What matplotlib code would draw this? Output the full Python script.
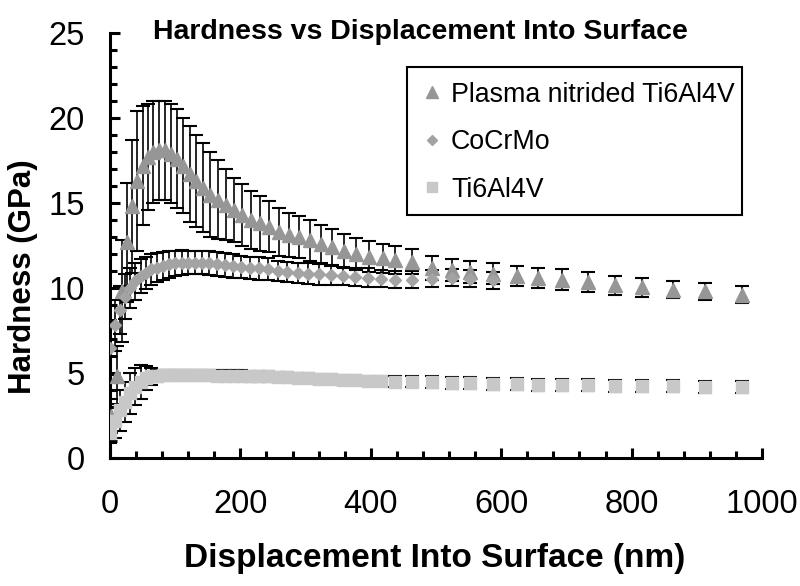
import matplotlib
matplotlib.use("Agg")
import matplotlib.pyplot as plt
from matplotlib.lines import Line2D
from matplotlib.patches import Rectangle
from matplotlib.ticker import MultipleLocator

# Plasma nitrided Ti6Al4V
pn_x = [2, 10, 18, 26, 34, 42, 50, 58, 66, 75, 84, 93, 102, 112, 122, 132, 143, 154,
        166, 178, 190, 203, 216, 230, 244, 259, 274, 290, 306, 323, 341, 359, 378,
        398, 418, 437, 463, 494, 525, 552, 587, 624, 656, 693, 733, 774, 816, 863,
        912, 969]
pn_y = [2.5, 4.8, 9.8, 12.7, 14.8, 16.3, 17.2, 17.7, 18.0, 18.1, 18.1, 17.9, 17.6,
        17.2, 16.7, 16.3, 15.9, 15.5, 15.2, 14.9, 14.6, 14.3, 14.0, 13.8, 13.6, 13.3,
        13.1, 13.0, 12.8, 12.6, 12.4, 12.2, 12.0, 11.85, 11.75, 11.65, 11.55, 11.2,
        11.05, 10.95, 10.85, 10.7, 10.6, 10.5, 10.35, 10.15, 10.05, 9.9, 9.8, 9.6]
pn_err = [1.0, 1.8, 3.0, 3.5, 3.9, 4.1, 3.5, 3.1, 3.0, 2.9, 2.9, 2.9, 2.9, 2.8, 2.8,
          2.7, 2.6, 2.5, 2.3, 2.1, 1.9, 1.8, 1.7, 1.6, 1.5, 1.4, 1.3, 1.25, 1.2, 1.1,
          1.05, 1.0, 0.95, 0.9, 0.85, 0.8, 0.75, 0.7, 0.65, 0.65, 0.6, 0.6, 0.6, 0.6,
          0.6, 0.55, 0.55, 0.5, 0.5, 0.5]

# CoCrMo
co_x = [0, 8, 15, 23, 31, 39, 47, 55, 63, 72, 81, 90, 100, 110, 120, 130, 141, 152,
        164, 176, 188, 201, 214, 228, 242, 257, 272, 288, 304, 321, 339, 357, 376,
        396, 416, 437, 463, 494, 525, 552, 587]
co_y = [6.5, 7.8, 8.7, 9.5, 10.0, 10.4, 10.7, 10.9, 11.1, 11.2, 11.3, 11.4, 11.45,
        11.5, 11.5, 11.5, 11.5, 11.45, 11.4, 11.35, 11.3, 11.25, 11.2, 11.15, 11.1,
        11.0, 10.95, 10.9, 10.85, 10.8, 10.75, 10.7, 10.65, 10.6, 10.55, 10.5, 10.5,
        10.55, 10.6, 10.55, 10.45]
co_err = [1.6, 1.5, 1.4, 1.3, 1.2, 1.1, 1.0, 0.95, 0.9, 0.85, 0.8, 0.8, 0.75, 0.75,
          0.7, 0.7, 0.7, 0.7, 0.7, 0.7, 0.7, 0.65, 0.65, 0.65, 0.65, 0.6, 0.6, 0.6,
          0.6, 0.6, 0.55, 0.55, 0.55, 0.55, 0.5, 0.5, 0.5, 0.5, 0.5, 0.5, 0.5]

# Ti6Al4V
ti_x = [0, 8, 15, 23, 31, 39, 47, 55, 63, 72, 81, 90, 100, 110, 120, 130, 141, 152,
        164, 176, 188, 201, 214, 228, 242, 257, 272, 288, 304, 321, 339, 357, 376,
        396, 416, 437, 463, 494, 525, 552, 587, 624, 656, 693, 733, 774, 816, 863,
        912, 969]
ti_y = [1.5, 2.2, 2.8, 3.3, 3.8, 4.2, 4.5, 4.7, 4.8, 4.85, 4.9, 4.9, 4.9, 4.9, 4.9,
        4.9, 4.9, 4.9, 4.85, 4.85, 4.85, 4.85, 4.8, 4.8, 4.8, 4.75, 4.75, 4.7, 4.7,
        4.65, 4.65, 4.6, 4.6, 4.55, 4.55, 4.5, 4.5, 4.45, 4.4, 4.4, 4.35, 4.35, 4.3,
        4.3, 4.3, 4.25, 4.25, 4.25, 4.2, 4.2]
ti_err = [0.6, 1.0, 1.2, 1.2, 1.2, 1.1, 1.0, 0.7, 0.5, 0.35, 0.3, 0.3, 0.3, 0.3, 0.3,
          0.3, 0.3, 0.3, 0.3, 0.3, 0.3, 0.3, 0.3, 0.3, 0.3, 0.3, 0.3, 0.3, 0.3, 0.3,
          0.3, 0.3, 0.3, 0.3, 0.3, 0.35, 0.35, 0.35, 0.35, 0.35, 0.35, 0.35, 0.35,
          0.35, 0.35, 0.35, 0.35, 0.35, 0.35, 0.35]

labels = ["Plasma nitrided Ti6Al4V", "CoCrMo", "Ti6Al4V"]
colors = ["#969696", "#a3a3a3", "#c8c8c8"]

plt.rcParams['font.family'] = ['Liberation Sans', 'DejaVu Sans']

fig = plt.figure(figsize=(8, 5.86), dpi=100)
ax = fig.add_axes([0.1375, 0.2184, 0.815, 0.7253])

eb = dict(fmt='none', ecolor='black', elinewidth=1.2, capsize=5, capthick=1.5, zorder=2)
ax.errorbar(pn_x, pn_y, yerr=pn_err, **eb)
ax.errorbar(co_x, co_y, yerr=co_err, **eb)
ax.errorbar(ti_x, ti_y, yerr=ti_err, **eb)

ax.plot(pn_x, pn_y, ls='none', marker='^', ms=10, color=colors[0], mec=colors[0], zorder=3)
ax.plot(co_x, co_y, ls='none', marker='D', ms=6.5, color=colors[1], mec=colors[1], zorder=3)
ax.plot(ti_x, ti_y, ls='none', marker='s', ms=9, color=colors[2], mec=colors[2], zorder=3)

ax.set_xlim(0, 1000)
ax.set_ylim(0, 25)
ax.xaxis.set_major_locator(MultipleLocator(200))
ax.xaxis.set_minor_locator(MultipleLocator(40))
ax.yaxis.set_major_locator(MultipleLocator(5))
ax.yaxis.set_minor_locator(MultipleLocator(1))

for s in ['top', 'right']:
    ax.spines[s].set_visible(False)
for s in ['left', 'bottom']:
    ax.spines[s].set_linewidth(2.2)

ax.tick_params(which='major', direction='in', length=7, width=2.2, labelsize=23.5)
ax.tick_params(which='minor', direction='in', length=5, width=2.2)
ax.tick_params(axis='x', pad=22)
ax.tick_params(axis='y', pad=18)

fig.text(0.526, 0.946, "Hardness vs Displacement Into Surface", fontsize=20.5,
         fontweight='bold', ha='center', va='center')
ax.set_xlabel("Displacement Into Surface (nm)", fontsize=24, fontweight='bold')
ax.set_ylabel("Hardness (GPa)", fontsize=22.5, fontweight='bold')
ax.xaxis.set_label_coords(0.4985, -0.2)
ax.yaxis.set_label_coords(-0.11, 0.426)

# legend box drawn separately so the text can run up to its right edge
ax.add_patch(Rectangle((0.4555, 0.572), 0.5135, 0.348, transform=ax.transAxes,
                       facecolor='white', edgecolor='black', lw=1.5, zorder=4))
handles = [Line2D([], [], ls='none', marker='^', ms=8, color=colors[0]),
           Line2D([], [], ls='none', marker='D', ms=5.5, color=colors[1]),
           Line2D([], [], ls='none', marker='s', ms=7.5, color=colors[2])]
leg = ax.legend(handles, labels, loc='upper left', bbox_to_anchor=(0.455, 0.92),
                borderaxespad=0, fontsize=19.3, labelspacing=0.8, handlelength=0.8,
                handletextpad=0.3, borderpad=0.55, frameon=False)
leg.set_zorder(5)

fig.savefig("out.png", dpi=100)
